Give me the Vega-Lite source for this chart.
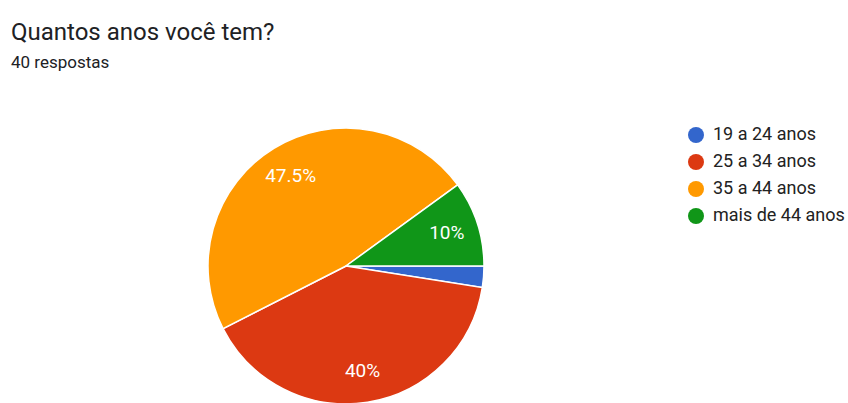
{
  "$schema": "https://vega.github.io/schema/vega-lite/v6.json",
  "autosize": {"type": "none"},
  "width": 276,
  "height": 276,
  "padding": {"left": 208, "top": 128, "right": 364, "bottom": 0},
  "background": "white",
  "title": {
    "text": "Quantos anos você tem?",
    "subtitle": "40 respostas",
    "anchor": "start",
    "frame": "group",
    "dx": -197,
    "offset": 54,
    "font": "Roboto",
    "fontSize": 24,
    "fontWeight": "normal",
    "color": "#202124",
    "subtitleFont": "Roboto",
    "subtitleFontSize": 17,
    "subtitleColor": "#202124",
    "subtitlePadding": 10
  },
  "data": {
    "values": [
      {"faixa": "19 a 24 anos", "respostas": 1, "rotulo": "2.5%"},
      {"faixa": "25 a 34 anos", "respostas": 16, "rotulo": "40%"},
      {"faixa": "35 a 44 anos", "respostas": 19, "rotulo": "47.5%"},
      {"faixa": "mais de 44 anos", "respostas": 4, "rotulo": "10%"}
    ]
  },
  "encoding": {
    "theta": {"field": "respostas", "type": "quantitative", "stack": true, "scale": {"range": [1.5708, 7.854]}},
    "order": {"field": "faixa", "type": "nominal"}
  },
  "layer": [
    {
      "mark": {"type": "arc", "outerRadius": 138, "stroke": "white", "strokeWidth": 1.5},
      "encoding": {
        "color": {
          "field": "faixa",
          "type": "nominal",
          "scale": {"domain": ["19 a 24 anos", "25 a 34 anos", "35 a 44 anos", "mais de 44 anos"], "range": ["#3366cc", "#dc3912", "#ff9900", "#109618"]},
          "legend": {
            "title": null,
            "orient": "none",
            "legendX": 479,
            "legendY": -2,
            "symbolType": "circle",
            "symbolSize": 256,
            "symbolStrokeWidth": 0,
            "labelFont": "Roboto",
            "labelFontSize": 18,
            "labelColor": "#222222",
            "labelOffset": 8,
            "rowPadding": 9
          }
        }
      }
    },
    {
      "mark": {"type": "text", "radius": 106, "font": "Roboto", "fontSize": 19, "color": "white"},
      "encoding": {
        "text": {"condition": {"test": "datum.respostas < 2", "value": ""}, "field": "rotulo", "type": "nominal"}
      }
    }
  ]
}
